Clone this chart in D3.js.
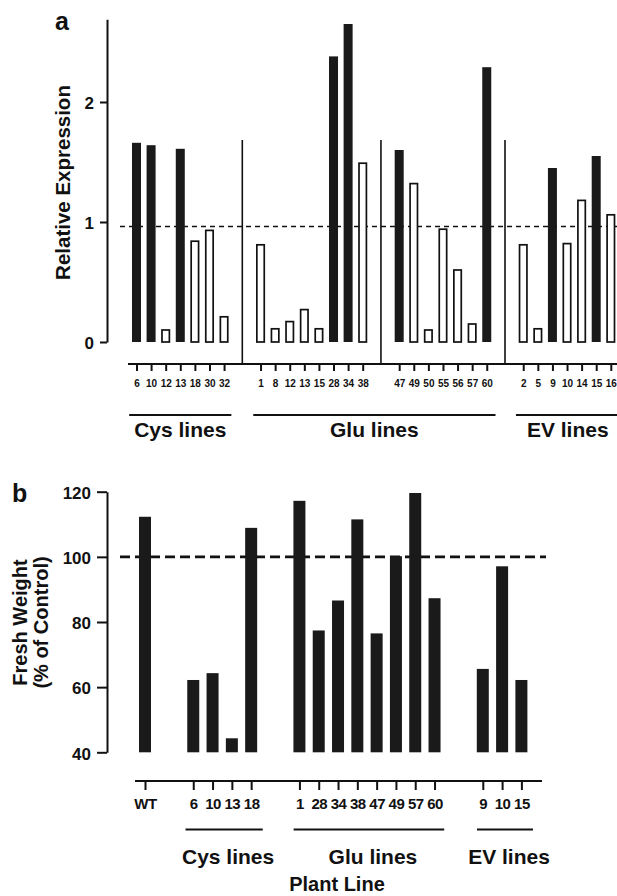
<!DOCTYPE html>
<head>
  <meta charset="utf-8">
  <script src="https://d3js.org/d3.v7.min.js"></script>
  <style>
    body { margin:0; background:#fff; }
    text { font-family: "Liberation Sans", Arial, sans-serif; font-weight: bold; fill: #111; }
    .axis path, .axis line { stroke: #111; stroke-width: 2; }
  </style>
</head>
<body>
  <script>
    // panel a: relative expression per line (groups: 0 Cys, 1-2 Glu, 3 EV)
    var exprLines  = ['6','10','12','13','18','30','32',
                      '1','8','12','13','15','28','34','38',
                      '47','49','50','55','56','57','60',
                      '2','5','9','10','14','15','16'];
    var exprGroup  = [0,0,0,0,0,0,0, 1,1,1,1,1,1,1,1, 2,2,2,2,2,2,2, 3,3,3,3,3,3,3];
    var exprValues = [1.66,1.64,0.10,1.61,0.84,0.93,0.21,
                      0.81,0.11,0.17,0.27,0.11,2.38,2.65,1.49,
                      1.60,1.32,0.10,0.94,0.60,0.15,2.29,
                      0.81,0.11,1.45,0.82,1.18,1.55,1.06];
    var exprFilled = [1,1,0,1,0,0,0, 0,0,0,0,0,1,1,0, 1,0,0,0,0,0,1, 0,0,1,0,0,1,0];
    var exprTicks  = [0, 1, 2];
    var exprRef    = 0.962;

    // panel b: fresh weight (% of control)
    var fwLines  = ['WT','6','10','13','18','1','28','34','38','47','49','57','60','9','10','15'];
    var fwGroup  = [0,1,1,1,1,2,2,2,2,2,2,2,2,3,3,3];
    var fwValues = [112.3,62.2,64.3,44.3,108.9,117.2,77.4,86.6,111.5,76.5,100.2,119.6,87.3,65.6,97.1,62.2];
    var fwTicks  = [40, 60, 80, 100, 120];
    var fwRef    = 100;

    var groupNames = ['Cys lines', 'Glu lines', 'EV lines'];

    var width = 617, height = 896;
    var svg = d3.select('body').append('svg')
      .attr('width', width)
      .attr('height', height);

    // ---------- panel a ----------
    var slotA = exprLines.map(function(d, i) { return i + exprGroup[i] * 1.5; });
    var xA = d3.scaleLinear().domain([0, 32.5]).range([136.5, 610.8]);
    var yA = d3.scaleLinear().domain([0, 2.69]).range([342, 19.2]);

    var gA = svg.append('g');

    gA.append('g').attr('class', 'axis')
      .attr('transform', 'translate(107,0)')
      .call(d3.axisLeft(yA).tickValues(exprTicks).tickFormat(d3.format('d'))
        .tickSize(7).tickSizeOuter(0).tickPadding(6))
      .call(function(g) {
        g.selectAll('text').style('font-size', '17px').attr('dy', '0.36em');
      });

    // reference dashed line
    gA.append('line')
      .attr('x1', 120).attr('x2', width)
      .attr('y1', yA(exprRef)).attr('y2', yA(exprRef))
      .attr('stroke', '#111').attr('stroke-width', 1.6)
      .attr('stroke-dasharray', '5,4');

    gA.selectAll('.barA')
      .data(exprValues)
      .enter().append('rect')
      .attr('class', 'barA')
      .attr('x', function(d, i) { return xA(slotA[i]) - (exprFilled[i] ? 4.5 : 3.7); })
      .attr('width', function(d, i) { return exprFilled[i] ? 9 : 7.4; })
      .attr('y', function(d) { return yA(d); })
      .attr('height', function(d) { return yA(0) - yA(d); })
      .attr('fill', function(d, i) { return exprFilled[i] ? '#1a1a1a' : '#fff'; })
      .attr('stroke', function(d, i) { return exprFilled[i] ? 'none' : '#111'; })
      .attr('stroke-width', 1.7);

    // x axis
    var axA = gA.append('g').attr('class', 'axis')
      .attr('transform', 'translate(0,364)')
      .call(d3.axisBottom(xA).tickValues(slotA).tickSize(7).tickSizeOuter(0).tickPadding(9)
        .tickFormat(function(d, i) { return exprLines[i]; }));
    axA.select('.domain').remove();
    axA.selectAll('text').style('font-size', '10px');
    axA.append('line').attr('x1', 128).attr('x2', width).attr('stroke', '#111').attr('stroke-width', 2);

    // group separators
    [7.25, 16.75, 25.25].forEach(function(s) {
      gA.append('line')
        .attr('x1', xA(s)).attr('x2', xA(s))
        .attr('y1', 140).attr('y2', 364)
        .attr('stroke', '#111').attr('stroke-width', 1.6);
    });

    var spansA = [[-0.5, 6.5], [8, 24.6], [26, 33.1]];
    spansA.forEach(function(s, i) {
      gA.append('line')
        .attr('x1', xA(s[0])).attr('x2', xA(s[1]))
        .attr('y1', 415).attr('y2', 415)
        .attr('stroke', '#111').attr('stroke-width', 1.8);
      gA.append('text')
        .attr('x', xA((s[0] + s[1]) / 2)).attr('y', 437)
        .attr('text-anchor', 'middle')
        .style('font-size', '21px')
        .text(groupNames[i]);
    });

    gA.append('text')
      .attr('transform', 'translate(70,182.5) rotate(-90)')
      .attr('text-anchor', 'middle')
      .style('font-size', '20.5px')
      .text('Relative Expression');

    gA.append('text').attr('x', 55).attr('y', 30).style('font-size', '25px').text('a');

    // ---------- panel b ----------
    var slotB = fwLines.map(function(d, i) { return i + fwGroup[i] * 1.5; });
    var xB = d3.scaleLinear().domain([0, 19.5]).range([145, 521.4]);
    var yB = d3.scaleLinear().domain([40, 120]).range([752.3, 491.7]);

    var gB = svg.append('g');

    gB.append('g').attr('class', 'axis')
      .attr('transform', 'translate(107,0)')
      .call(d3.axisLeft(yB).tickValues(fwTicks).tickSize(10).tickSizeOuter(0).tickPadding(6))
      .call(function(g) {
        g.selectAll('text').style('font-size', '17px').attr('dy', '0.4em');
      });

    gB.append('line')
      .attr('x1', 120).attr('x2', 546)
      .attr('y1', yB(fwRef)).attr('y2', yB(fwRef))
      .attr('stroke', '#111').attr('stroke-width', 2.6)
      .attr('stroke-dasharray', '10,5');

    gB.selectAll('.barB')
      .data(fwValues)
      .enter().append('rect')
      .attr('class', 'barB')
      .attr('x', function(d, i) { return xB(slotB[i]) - 6; })
      .attr('width', 12)
      .attr('y', function(d) { return yB(d); })
      .attr('height', function(d) { return yB(40) - yB(d); })
      .attr('fill', '#1a1a1a');

    var axB = gB.append('g').attr('class', 'axis')
      .attr('transform', 'translate(0,781)')
      .call(d3.axisBottom(xB).tickValues(slotB).tickSize(9).tickSizeOuter(0).tickPadding(8)
        .tickFormat(function(d, i) { return fwLines[i]; }));
    axB.select('.domain').remove();
    axB.selectAll('text').style('font-size', '15px').style('letter-spacing', '-0.5px');
    axB.append('line').attr('x1', 135).attr('x2', 542).attr('stroke', '#111').attr('stroke-width', 2);

    var spansB = [[2.1, 6.1], [7.7, 15.5], [17.2, 20.1]];
    spansB.forEach(function(s, i) {
      gB.append('line')
        .attr('x1', xB(s[0])).attr('x2', xB(s[1]))
        .attr('y1', 829.5).attr('y2', 829.5)
        .attr('stroke', '#111').attr('stroke-width', 1.8);
      gB.append('text')
        .attr('x', xB((s[0] + s[1]) / 2) + 4).attr('y', 864)
        .attr('text-anchor', 'middle')
        .style('font-size', '21px')
        .text(groupNames[i]);
    });

    gB.append('text')
      .attr('x', 337).attr('y', 891)
      .attr('text-anchor', 'middle')
      .style('font-size', '20px')
      .text('Plant Line');

    gB.append('text')
      .attr('transform', 'translate(27,622.5) rotate(-90)')
      .attr('text-anchor', 'middle')
      .style('font-size', '20px')
      .text('Fresh Weight');
    gB.append('text')
      .attr('transform', 'translate(48,622.5) rotate(-90)')
      .attr('text-anchor', 'middle')
      .style('font-size', '20px')
      .text('(% of Control)');

    gB.append('text').attr('x', 12).attr('y', 502).style('font-size', '25px').text('b');
  </script>
</body>
